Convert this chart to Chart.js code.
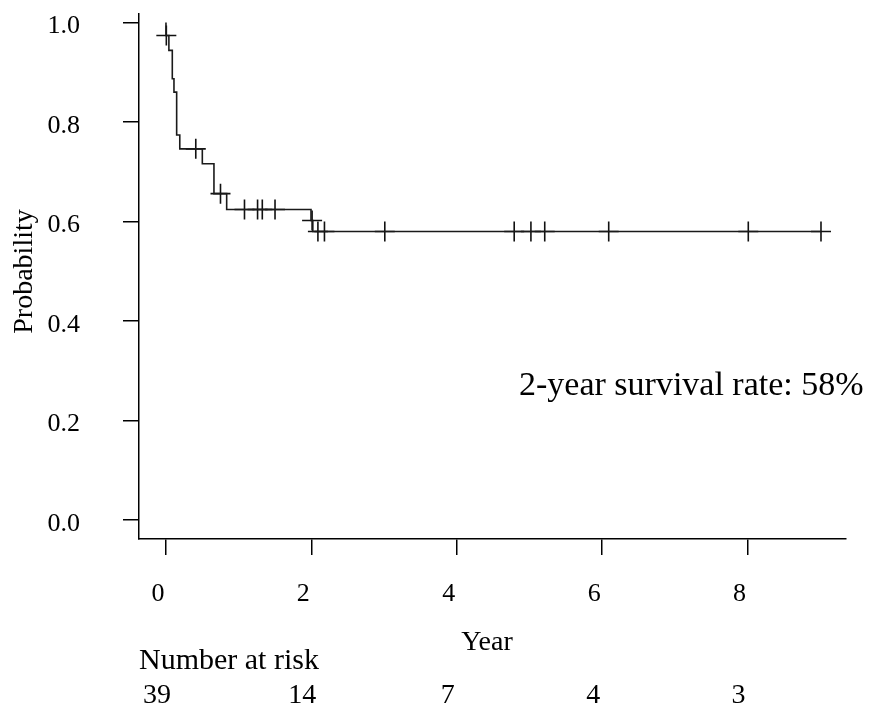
<!DOCTYPE html>
<html>
<head>
<meta charset="utf-8">
<script src="https://cdn.jsdelivr.net/npm/chart.js@4.4.1/dist/chart.umd.min.js"></script>
<style>
html,body{margin:0;padding:0;background:#fff;}
canvas{display:block;}
</style>
</head>
<body>
<canvas id="c" width="872" height="704"></canvas>
<script>
// Kaplan-Meier step points (time in years, survival probability)
const eventTimes = [0, 0, 0.04, 0.087, 0.11, 0.147, 0.19, 0.50, 0.66, 0.835, 1.995, 2.02, 9.01];
const survival   = [1.0, 0.974, 0.944, 0.887, 0.860, 0.774, 0.746, 0.716, 0.656, 0.624, 0.602, 0.580, 0.580];
// Censored observations
const censorTimes = [0.005, 0.41, 0.75, 1.08, 1.26, 1.325, 1.50, 2.01, 2.09, 2.18, 3.01, 4.79, 5.02, 5.21, 6.09, 8.01, 9.01];
const censorSurv  = [0.974, 0.746, 0.656, 0.624, 0.624, 0.624, 0.624, 0.602, 0.580, 0.580, 0.580, 0.580, 0.580, 0.580, 0.580, 0.580, 0.580];
// Axis ticks
const xTicks = [0, 2, 4, 6, 8];
const yTicks = [0, 0.2, 0.4, 0.6, 0.8, 1.0];
// Number at risk
const riskTimes = [0, 2, 4, 6, 8];
const riskCounts = [39, 14, 7, 4, 3];
const annotationText = "2-year survival rate: 58%";

const SERIF = '"Liberation Serif", "DejaVu Serif", serif';

const textPlugin = {
  id: 'kmText',
  afterDraw(chart) {
    const ctx = chart.ctx;
    const xs = chart.scales.x, ys = chart.scales.y;
    ctx.save();
    ctx.fillStyle = '#000';
    // x title
    ctx.font = '28px ' + SERIF;
    ctx.textAlign = 'center';
    ctx.textBaseline = 'middle';
    ctx.fillText('Year', 487, 643);
    // y title
    ctx.save();
    ctx.translate(32, 271.5);
    ctx.rotate(-Math.PI / 2);
    ctx.textBaseline = 'alphabetic';
    ctx.font = '28px ' + SERIF;
    ctx.fillText('Probability', 0, 0);
    ctx.restore();
    // number at risk
    ctx.textAlign = 'left';
    ctx.textBaseline = 'alphabetic';
    ctx.font = '30px ' + SERIF;
    ctx.fillText('Number at risk', 139, 669);
    ctx.font = '28px ' + SERIF;
    ctx.textAlign = 'center';
    riskTimes.forEach((t, i) => {
      ctx.fillText(String(riskCounts[i]), xs.getPixelForValue(t) - 9, 703);
    });
    // annotation
    ctx.font = '34px ' + SERIF;
    ctx.textAlign = 'left';
    ctx.fillText(annotationText, xs.getPixelForValue(4.856), ys.getPixelForValue(0.251));
    ctx.restore();
  }
};

new Chart(document.getElementById('c'), {
  type: 'scatter',
  data: {
    datasets: [
      {
        label: 'Survival',
        data: eventTimes.map((t, i) => ({x: t, y: survival[i]})),
        showLine: true,
        stepped: true,
        borderColor: '#1a1a1a',
        borderWidth: 1.6,
        pointRadius: 0,
        fill: false
      },
      {
        label: 'Censored',
        data: censorTimes.map((t, i) => ({x: t, y: censorSurv[i]})),
        showLine: false,
        pointStyle: 'cross',
        pointRadius: 10,
        borderColor: '#111',
        backgroundColor: '#111',
        borderWidth: 1.6
      }
    ]
  },
  options: {
    responsive: false,
    animation: false,
    layout: {padding: {top: 14, right: 26, left: 0, bottom: 0}},
    plugins: {legend: {display: false}, tooltip: {enabled: false}},
    scales: {
      x: {
        type: 'linear',
        min: -0.371,
        max: 9.354,
        afterBuildTicks: s => { s.ticks = xTicks.map(v => ({value: v})); },
        afterFit: s => { s.height = 165; s.paddingLeft = 0; s.paddingRight = 0; },
        grid: {drawOnChartArea: false, drawTicks: true, tickLength: 16, color: '#000', lineWidth: 1.5},
        border: {display: true, color: '#000', width: 1.5},
        ticks: {
          font: {family: SERIF, size: 26},
          color: '#000',
          padding: 24,
          labelOffset: -8,
          maxRotation: 0,
          autoSkip: false,
          callback: v => String(v)
        }
      },
      y: {
        type: 'linear',
        min: -0.0382,
        max: 1.0171,
        afterBuildTicks: s => { s.ticks = yTicks.map(v => ({value: v})); },
        afterFit: s => { s.width = 139; s.paddingTop = 0; s.paddingBottom = 0; },
        grid: {drawOnChartArea: false, drawTicks: true, tickLength: 16, color: '#000', lineWidth: 1.5},
        border: {display: true, color: '#000', width: 1.5},
        ticks: {
          font: {family: SERIF, size: 26},
          color: '#000',
          padding: 43,
          labelOffset: 4,
          autoSkip: false,
          callback: v => v.toFixed(1)
        }
      }
    }
  },
  plugins: [textPlugin]
});
</script>
</body>
</html>
